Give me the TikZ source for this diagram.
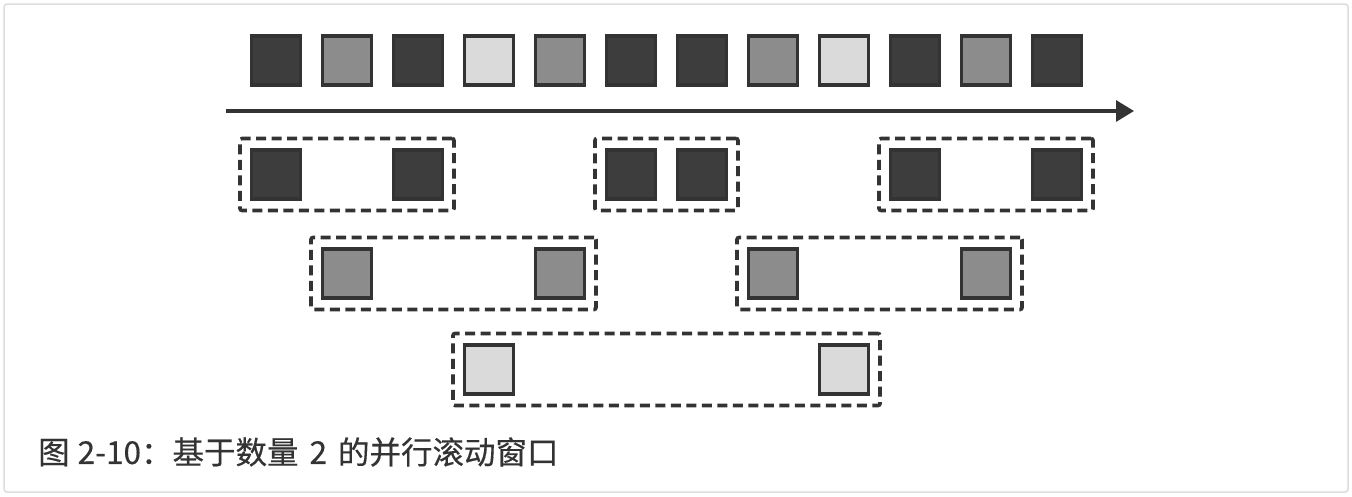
\documentclass[tikz,border=0pt]{standalone}
\usepackage{fontspec}
\newfontfamily\cjk[FakeBold=0.35]{Noto Sans CJK SC}
\usetikzlibrary{arrows.meta,fit}
\definecolor{ink}{HTML}{333333}
\definecolor{cdark}{HTML}{3D3D3D}
\definecolor{cmid}{HTML}{8C8C8C}
\definecolor{clight}{HTML}{DADADA}
\definecolor{frame}{HTML}{DDDDDD}
\tikzset{
  ev/.style={draw=ink, line width=3.2pt, minimum size=49pt, inner sep=0pt, outer sep=0pt},
  evdark/.style={ev, fill=cdark},
  evmid/.style={ev, fill=cmid},
  evlight/.style={ev, fill=clight},
  winbox/.style={draw=ink, line width=3.6pt, dash pattern=on 10pt off 5.5pt, rounded corners=2pt, inner sep=11.5pt},
}
\begin{document}
\begin{tikzpicture}[x=1pt,y=-1pt]
\useasboundingbox (0,0) rectangle (1352,496);
\fill[white] (0,0) rectangle (1352,496);
\draw[frame, line width=1.5pt, rounded corners=3pt] (4,4) rectangle (1348,492);
% top row
\foreach \i/\s in {0/evdark,1/evmid,2/evdark,3/evlight,4/evmid,5/evdark,6/evdark,7/evmid,8/evlight,9/evdark,10/evmid,11/evdark}{
  \node[\s] (t\i) at ({276+71*\i},60.5) {};
}
% arrow
\coordinate (as) at (226,111);
\coordinate (ae) at (1134,111);
\draw[ink, line width=3.2pt, -{Triangle[length=18pt,width=21pt]}] (as) -- (ae);
% row 1
\node[evdark] (a0) at (276,174.5) {};
\node[evdark] (a2) at (418,174.5) {};
\node[evdark] (a5) at (631,174.5) {};
\node[evdark] (a6) at (702,174.5) {};
\node[evdark] (a9) at (915,174.5) {};
\node[evdark] (a11) at (1057,174.5) {};
\node[winbox, fit=(a0)(a2)] (w1) {};
\node[winbox, fit=(a5)(a6)] (w2) {};
\node[winbox, fit=(a9)(a11)] (w3) {};
% row 2
\node[evmid] (b1) at (347,273.5) {};
\node[evmid] (b4) at (560,273.5) {};
\node[evmid] (b7) at (773,273.5) {};
\node[evmid] (b10) at (986,273.5) {};
\node[winbox, fit=(b1)(b4)] (w4) {};
\node[winbox, fit=(b7)(b10)] (w5) {};
% row 3
\node[evlight] (c3) at (489,369.5) {};
\node[evlight] (c8) at (844,369.5) {};
\node[winbox, fit=(c3)(c8)] (w6) {};
% caption
\node[anchor=west, inner sep=0pt, text=ink, font=\cjk\fontsize{31.5}{36}\selectfont] (cap) at (38,452) {图\hspace{8pt}2-10：基于数量\hspace{11pt}2\hspace{11pt}的并行滚动窗口};
\end{tikzpicture}
\end{document}
